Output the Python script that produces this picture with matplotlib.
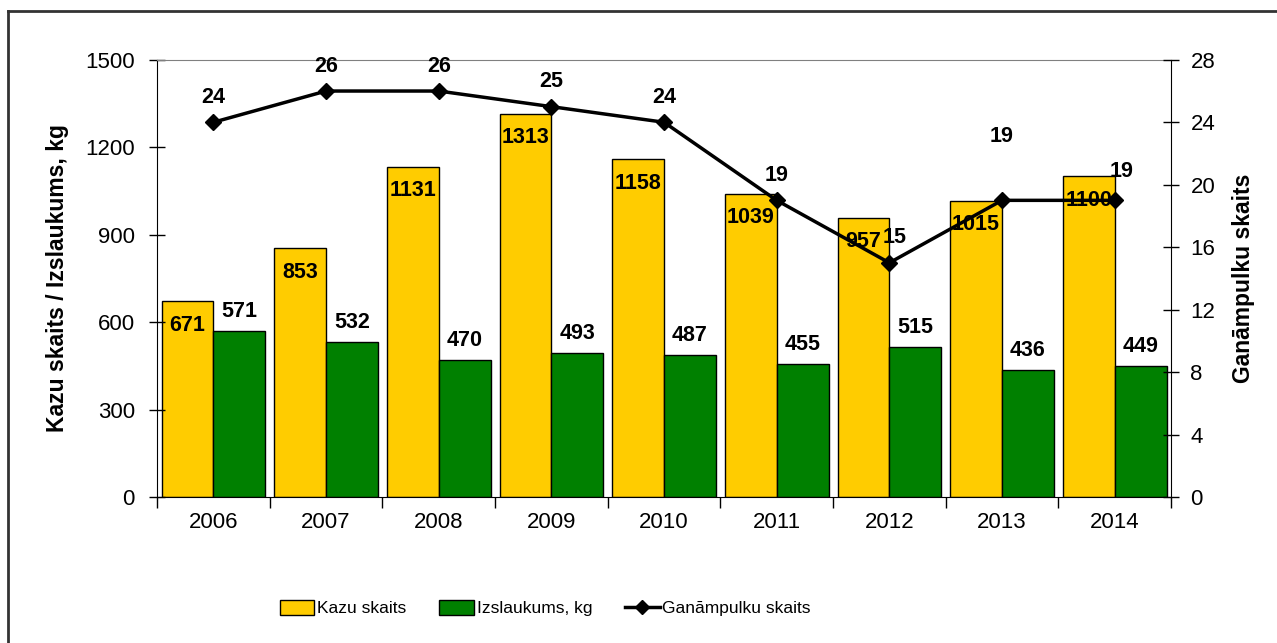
import numpy as np
import matplotlib.pyplot as plt
from matplotlib.lines import Line2D
from matplotlib.patches import Patch

plt.rcParams['font.family'] = ['Liberation Sans', 'DejaVu Sans']

# Data
years = ['2006', '2007', '2008', '2009', '2010', '2011', '2012', '2013', '2014']
kazu_skaits = [671, 853, 1131, 1313, 1158, 1039, 957, 1015, 1100]
izslaukums = [571, 532, 470, 493, 487, 455, 515, 436, 449]
ganampulku_skaits = [24, 26, 26, 25, 24, 19, 15, 19, 19]

YELLOW = '#FFCC00'
GREEN = '#008000'

fig = plt.figure(figsize=(12.77, 6.43), dpi=100)
ax = fig.add_axes([0.123, 0.227, 0.794, 0.680])

x = np.arange(len(years))
w = 0.46

ax.bar(x - w / 2, kazu_skaits, w, color=YELLOW, edgecolor='black', linewidth=1)
ax.bar(x + w / 2, izslaukums, w, color=GREEN, edgecolor='black', linewidth=1)

ax.set_xlim(-0.5, len(years) - 0.5)
ax.set_ylim(0, 1500)
ax.set_yticks(np.arange(0, 1501, 300))

# boundaries get the tick marks, centres get the year labels
ax.set_xticks(np.arange(-0.5, len(years)), labels=[])
ax.set_xticks(x, labels=years, minor=True)
ax.tick_params(axis='x', which='major', direction='out', length=8, width=1)
ax.tick_params(axis='x', which='minor', length=0, labelsize=16, pad=11)
ax.tick_params(axis='y', direction='inout', length=12, width=1, labelsize=16, pad=10)

ax.spines['top'].set_color('#808080')
ax.spines['right'].set_visible(False)
ax.set_ylabel('Kazu skaits / Izslaukums, kg', fontsize=16.5, fontweight='bold', labelpad=12)

# bar value labels
for xi, v in zip(x, kazu_skaits):
    ax.annotate(str(v), (xi - w / 2, v), xytext=(0, -17), textcoords='offset points',
                ha='center', va='center', fontsize=15.5, fontweight='bold')
for xi, v in zip(x, izslaukums):
    ax.annotate(str(v), (xi + w / 2, v), xytext=(0, 14), textcoords='offset points',
                ha='center', va='center', fontsize=15.5, fontweight='bold')

# line on secondary axis
ax2 = ax.twinx()
ax2.plot(x, ganampulku_skaits, color='black', linewidth=2.5, marker='D', markersize=8)
ax2.set_ylim(0, 28)
ax2.set_yticks(np.arange(0, 29, 4))
ax2.tick_params(axis='y', direction='inout', length=12, width=1, labelsize=16, pad=8)
ax2.spines['top'].set_visible(False)
ax2.spines['left'].set_visible(False)
ax2.spines['bottom'].set_visible(False)
ax2.set_ylabel('Ganāmpulku skaits', fontsize=16.5, fontweight='bold', labelpad=12)

for i, (xi, v) in enumerate(zip(x, ganampulku_skaits)):
    dx, dy = 0, 18
    if years[i] == '2012':
        dx = 4
    elif years[i] == '2013':
        dy = 46
    elif years[i] == '2014':
        dx = 5
        dy = 21
    ax2.annotate(str(v), (xi, v), xytext=(dx, dy), textcoords='offset points',
                 ha='center', va='center', fontsize=15.5, fontweight='bold')

handles = [
    Patch(facecolor=YELLOW, edgecolor='black', label='Kazu skaits'),
    Patch(facecolor=GREEN, edgecolor='black', label='Izslaukums, kg'),
    Line2D([0], [0], color='black', linewidth=2.5, marker='D', markersize=7,
           label='Ganāmpulku skaits'),
]
fig.legend(handles=handles, loc='center', bbox_to_anchor=(0.427, 0.054), ncol=3,
           frameon=False, fontsize=12.5, handlelength=2.0, handleheight=0.9,
           handletextpad=0.15, columnspacing=1.9)

# outer chart border (top and left edges visible)
fig.add_artist(Line2D([8 / 1277, 8 / 1277], [0, 1 - 11 / 643], color='#333333', linewidth=2,
                      transform=fig.transFigure))
fig.add_artist(Line2D([8 / 1277, 1], [1 - 11 / 643, 1 - 11 / 643], color='#333333', linewidth=2,
                      transform=fig.transFigure))

fig.savefig('out.png', dpi=100)
